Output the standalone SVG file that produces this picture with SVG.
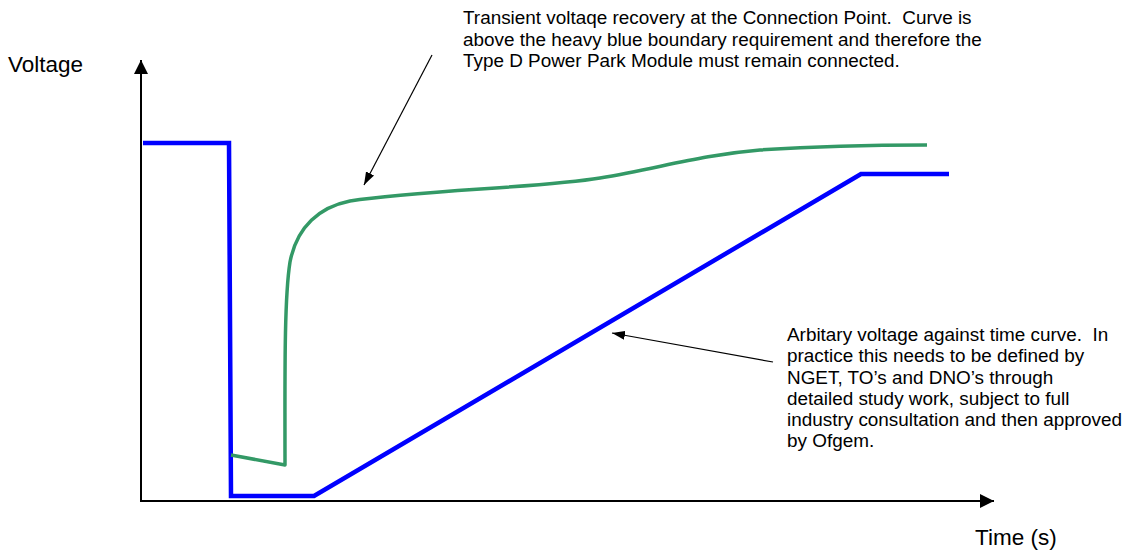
<svg xmlns="http://www.w3.org/2000/svg" width="1135" height="557" viewBox="0 0 1135 557">
  <style>
    .axis { stroke: #000; stroke-width: 2; fill: none; }
    .pointer { stroke: #000; stroke-width: 1.2; fill: none; }
    .limit { stroke: #0000FF; stroke-width: 4.5; fill: none; stroke-linejoin: miter; }
    .response { stroke: #339966; stroke-width: 3.5; fill: none; stroke-linejoin: round; }
    .label { font-family: "Liberation Sans", Arial, sans-serif; fill: #000; }
    .axislabel { font-size: 22.5px; }
    .note { font-size: 18.9px; white-space: pre; }
  </style>
  <defs>
    <marker id="axisHead" viewBox="0 0 14 14" refX="14" refY="7" markerWidth="14" markerHeight="14" markerUnits="userSpaceOnUse" orient="auto">
      <path d="M0,0 L14,7 L0,14 Z" fill="#000"/>
    </marker>
    <marker id="noteHead" viewBox="0 0 13 9" refX="13" refY="4.5" markerWidth="13" markerHeight="9" markerUnits="userSpaceOnUse" orient="auto">
      <path d="M0,0 L13,4.5 L0,9 Z" fill="#000"/>
    </marker>
  </defs>
  <rect width="1135" height="557" fill="#fff"/>

  <!-- axes -->
  <g id="axes">
    <line class="axis" x1="141" y1="501" x2="141" y2="60" marker-end="url(#axisHead)"/>
    <line class="axis" x1="140" y1="501" x2="994" y2="501" marker-end="url(#axisHead)"/>
    <text id="voltage-label" class="label axislabel" x="8" y="72">Voltage</text>
    <text id="time-label" class="label axislabel" x="975" y="545">Time (s)</text>
  </g>

  <!-- voltage against time boundary -->
  <g id="boundary">
    <path class="limit" d="M143,143 L229,143 L231,496 L314,496 L861,174 L949,174"/>
  </g>

  <!-- transient recovery at the connection point -->
  <g id="recovery">
    <path class="response" d="M231,455 L285,465 C285,380 284,300 290,262 C297,226 320,207 350,201 C420,190 540,188 600,178 C660,168 700,155 760,150 C820,146 880,145 927,145"/>
  </g>

  <!-- annotations -->
  <g id="note-recovery">
    <text class="label note" x="463" y="24">Transient voltaqe recovery at the Connection Point.  Curve is</text>
    <text class="label note" x="463" y="46">above the heavy blue boundary requirement and therefore the</text>
    <text class="label note" x="463" y="67">Type D Power Park Module must remain connected.</text>
  </g>
  <g id="note-boundary">
    <text class="label note" x="787" y="341">Arbitary voltage against time curve.  In</text>
    <text class="label note" x="787" y="362">practice this needs to be defined by</text>
    <text class="label note" x="787" y="384">NGET, TO’s and DNO’s through</text>
    <text class="label note" x="787" y="405">detailed study work, subject to full</text>
    <text class="label note" x="787" y="426">industry consultation and then approved</text>
    <text class="label note" x="787" y="447">by Ofgem.</text>
  </g>

  <!-- connectors -->
  <g id="connectors">
    <line class="pointer" x1="432" y1="55" x2="364" y2="185" marker-end="url(#noteHead)"/>
    <line class="pointer" x1="773" y1="362" x2="612" y2="333" marker-end="url(#noteHead)"/>
  </g>
</svg>
